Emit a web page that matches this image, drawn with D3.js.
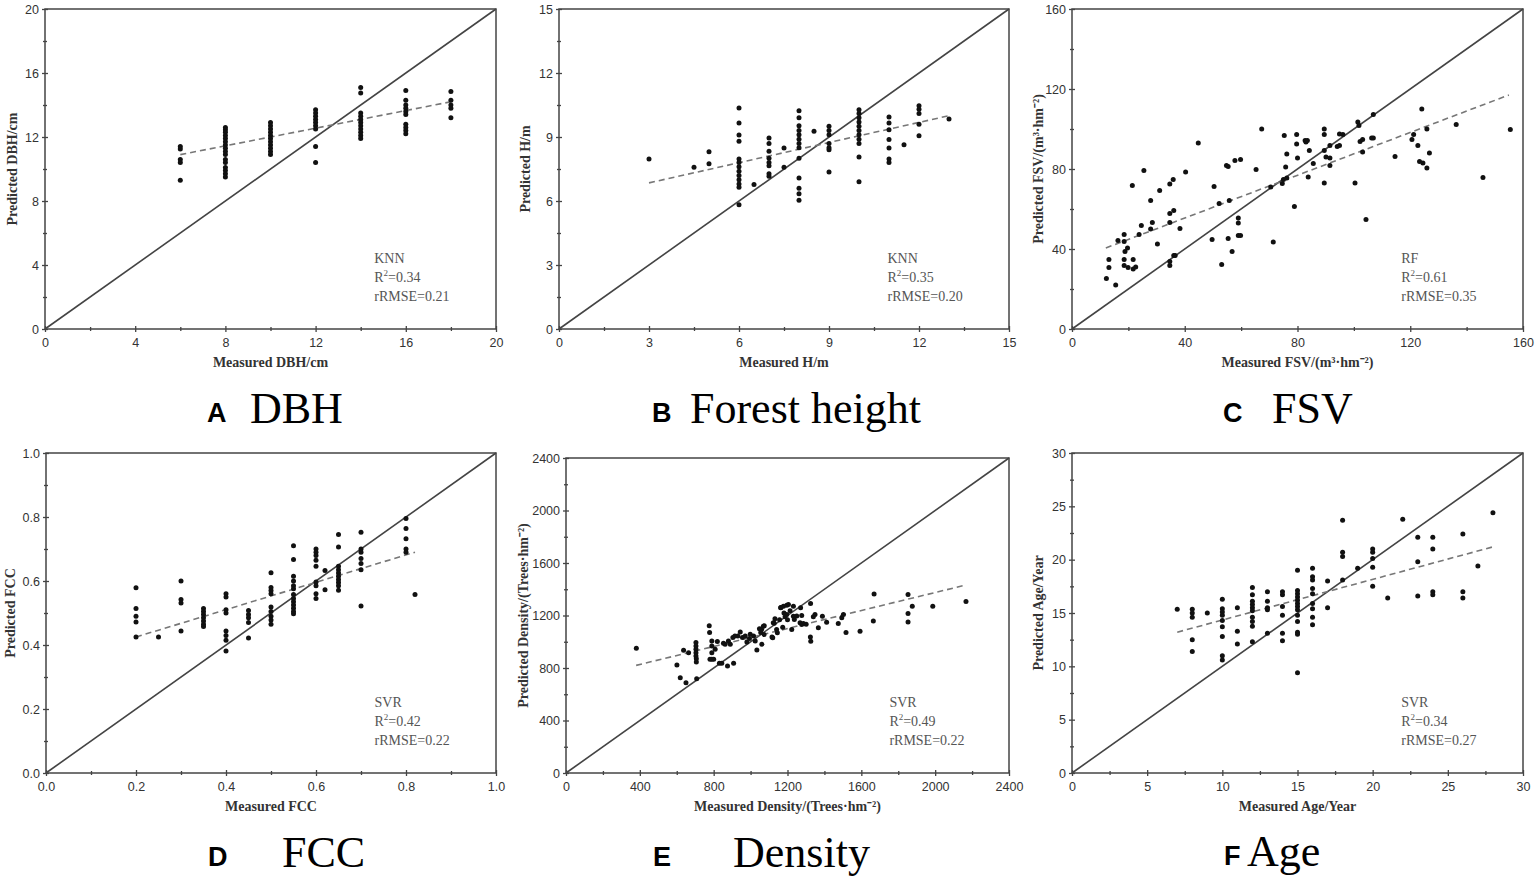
<!DOCTYPE html>
<html>
<head>
<meta charset="utf-8">
<script src="https://cdn.jsdelivr.net/npm/d3@7"></script>
<style>
  body { margin: 0; background: #fff; }
</style>
</head>
<body>
<svg id="chart" width="1535" height="878"></svg>
<script>
// ---- data: [measured, predicted] ----
var dbhPoints = [
  [6,11.4],[6,11.25],[6,10.6],[6,10.4],[6,9.3],
  [8,12.6],[8,12.45],[8,12.3],[8,12.1],[8,11.9],[8,11.7],[8,11.5],[8,11.3],[8,11.1],[8,10.9],[8,10.6],[8,10.4],[8,10.1],[8,9.9],[8,9.7],[8,9.5],
  [10,12.9],[10,12.7],[10,12.5],[10,12.3],[10,12.1],[10,11.9],[10,11.7],[10,11.5],[10,11.3],[10,11.1],[10,10.9],
  [12,13.7],[12,13.5],[12,13.3],[12,13.1],[12,12.9],[12,12.7],[12,12.5],[12,11.4],[12,10.4],
  [14,15.1],[14,14.75],[14,13.5],[14,13.3],[14,13.1],[14,12.9],[14,12.7],[14,12.5],[14,12.3],[14,12.1],[14,11.9],
  [16,14.9],[16,14.3],[16,14.0],[16,13.8],[16,13.6],[16,13.4],[16,12.8],[16,12.6],[16,12.4],[16,12.2],
  [18,14.85],[18,14.3],[18,14.0],[18,13.8],[18,13.2]
];
var heightPoints = [
  [3,7.97],[4.5,7.58],[5,8.31],[5,7.75],
  [6,10.36],[6,9.66],[6,9.09],[6,8.8],[6,7.97],[6,7.8],[6,7.6],[6,7.4],[6,7.2],[6,7.0],[6,6.8],[6,6.65],[6,5.83],
  [6.5,6.77],
  [7,8.95],[7,8.69],[7,8.33],[7,8.0],[7,7.8],[7,7.65],[7,7.28],[7,7.16],
  [7.5,8.48],[7.5,7.58],
  [8,10.23],[8,9.9],[8,9.53],[8,9.3],[8,9.1],[8,8.9],[8,8.7],[8,8.5],[8,8.0],[8,7.08],[8,6.6],[8,6.34],[8,6.03],
  [8.5,9.27],
  [9,9.5],[9,9.3],[9,9.1],[9,8.7],[9,8.5],[9,8.4],[9,7.36],
  [10,10.28],[10,10.1],[10,9.9],[10,9.7],[10,9.5],[10,9.3],[10,9.1],[10,8.9],[10,8.7],[10,8.06],[10,6.9],
  [11,9.94],[11,9.66],[11,9.34],[11,8.88],[11,8.48],[11,7.97],[11,7.8],
  [11.5,8.64],
  [12,10.47],[12,10.3],[12,10.1],[12,9.6],[12,9.06],
  [13,9.84]
];
var fsvPoints = [
  [12.2,25.2],[13.1,34.7],[13.1,30.8],[15.5,22],[16.3,44.3],[18.5,47.2],[18.5,43.8],[18.8,38.8],[19.7,40.5],
  [18.5,34.7],[18.5,31.8],[19.9,30.8],[21.4,71.7],[21.7,34.7],[21.7,30],[22.6,31],[23.8,47.2],[24.6,51.7],
  [25.5,79.3],[27.9,50],[27.9,64.3],[28.5,53.3],[30.3,42.5],[31.1,69.3],[34.7,72.5],[34.7,57.7],[34.7,53.3],
  [34.7,33.8],[34.7,31.8],[35.9,74.7],[36.1,59.3],[36.1,36.7],[36.6,36.7],[38.3,50.2],[40.3,78.5],[44.8,93],
  [49.7,44.7],[50.4,71.3],[52.2,62.7],[53.1,32.2],[54.8,81.7],[55.4,81.3],[55.4,45.2],[55.8,64.3],[56.8,38.7],
  [57.8,84.2],[59,53],[59,55.5],[59,46.7],[59.8,46.7],[59.8,84.7],[65.3,79.7],[67.3,100],[70.5,71],[71.4,43.5],
  [74.6,72.7],[75,74.7],[75.3,96.8],[75.8,81],[76.2,87.5],[76.2,75.5],[78.9,61.3],[79.7,97.2],[79.7,92.5],
  [80,85.5],[82.7,94.3],[83,93.5],[83.5,94.3],[83.8,76],[84.2,89.2],[85.6,82.7],[89.5,100],[89.5,97.2],
  [89.5,89.2],[89.5,73],[90.1,86],[91.5,91.8],[91.5,85.5],[91.5,81.7],[94.1,91.3],[94.9,91.8],[94.9,97.5],
  [96.1,97.2],[100.4,73],[101.4,103.5],[101.8,101.8],[102.2,93.8],[103.1,94.7],[103.1,88.5],[104.3,54.7],
  [106.3,95.5],[106.9,95.5],[106.9,107.2],[114.6,86.3],[120.6,94.7],[121.2,97.2],[122.7,91.8],[123.3,83.8],
  [124.1,110],[124.5,83],[125.9,80.5],[125.9,100],[126.8,88],[136.3,102.2],[145.8,75.8],[155.5,99.7]
];
var fccPoints = [
  [0.2,0.579],[0.2,0.514],[0.2,0.49],[0.2,0.472],[0.2,0.425],
  [0.25,0.425],
  [0.3,0.6],[0.3,0.542],[0.3,0.531],[0.3,0.444],
  [0.35,0.514],[0.35,0.505],[0.35,0.495],[0.35,0.485],[0.35,0.475],[0.35,0.465],[0.35,0.458],
  [0.4,0.56],[0.4,0.55],[0.4,0.51],[0.4,0.5],[0.4,0.444],[0.4,0.43],[0.4,0.415],[0.4,0.381],
  [0.45,0.508],[0.45,0.495],[0.45,0.485],[0.45,0.47],[0.45,0.422],
  [0.5,0.626],[0.5,0.58],[0.5,0.57],[0.5,0.56],[0.5,0.519],[0.5,0.505],[0.5,0.49],[0.5,0.478],[0.5,0.465],
  [0.55,0.71],[0.55,0.667],[0.55,0.615],[0.55,0.6],[0.55,0.585],[0.55,0.576],[0.55,0.558],[0.55,0.545],
  [0.55,0.535],[0.55,0.525],[0.55,0.515],[0.55,0.505],[0.55,0.498],
  [0.6,0.7],[0.6,0.69],[0.6,0.68],[0.6,0.665],[0.6,0.646],[0.6,0.597],[0.6,0.585],[0.6,0.56],[0.6,0.545],
  [0.62,0.633],[0.62,0.573],
  [0.65,0.745],[0.65,0.706],[0.65,0.646],[0.65,0.635],[0.65,0.625],[0.65,0.615],[0.65,0.605],[0.65,0.595],
  [0.65,0.585],[0.65,0.571],
  [0.7,0.752],[0.7,0.7],[0.7,0.69],[0.7,0.67],[0.7,0.655],[0.7,0.635],[0.7,0.522],
  [0.8,0.795],[0.8,0.764],[0.8,0.732],[0.8,0.7],[0.8,0.69],
  [0.82,0.558]
];
var densityPoints = [
  [381,950],[601,823],[619,726],[650,688],[637,935],[664,917],
  [704,994],[704,968],[704,943],[704,917],[704,892],[706,871],[706,846],[708,718],
  [776,1121],[778,1070],[780,866],[790,866],[800,866],[790,1006],[790,968],[790,917],[808,943],[820,1001],
  [831,836],[844,836],[853,989],[862,981],[875,815],[880,1006],[890,981],[904,1032],[908,836],[915,1044],
  [931,1044],[944,1075],[956,1032],[971,1044],[980,999],[994,1024],[998,1057],[1016,1044],[1025,1006],
  [1034,937],[1048,1100],[1055,1070],[1061,981],[1074,1121],[1069,1118],[1060,1093],[1073,1055],
  [1116,1037],[1120,1030],[1123,1144],[1128,1141],[1132,1175],[1141,1093],[1145,1068],[1157,1167],
  [1164,1261],[1174,1111],[1163,1259],[1178,1271],[1181,1220],[1187,1190],[1196,1208],[1196,1279],
  [1200,1167],[1205,1284],[1214,1236],[1223,1093],[1232,1271],[1232,1195],[1237,1169],[1250,1197],
  [1268,1144],[1271,1259],[1277,1200],[1277,1131],[1286,1139],[1301,1134],[1324,1037],[1326,1004],
  [1325,1292],[1340,1190],[1349,1208],[1367,1106],[1389,1195],[1412,1149],[1475,1139],[1494,1182],
  [1503,1207],[1517,1070],[1593,1080],[1665,1159],[1669,1363],[1853,1360],[1853,1215],[1853,1151],
  [1876,1271],[1987,1271],[2167,1307]
];
var agePoints = [
  [7,15.34],
  [8,15.34],[8,15.0],[8,14.6],[8,12.5],[8,11.4],
  [9,15.0],
  [10,16.3],[10,15.4],[10,15.1],[10,14.8],[10,14.3],[10,13.7],[10,12.8],[10,11.0],[10,10.6],
  [11,15.5],[11,13.3],[11,12.1],
  [12,17.4],[12,16.7],[12,16.1],[12,15.8],[12,15.5],[12,15.2],[12,14.6],[12,14.2],[12,13.75],[12,12.3],
  [13,17.0],[13,16.1],[13,15.5],[13,15.3],[13,13.1],
  [14,17.0],[14,16.7],[14,15.6],[14,14.8],[14,13.1],[14,12.4],
  [15,19.0],[15,17.1],[15,16.8],[15,16.5],[15,16.2],[15,15.9],[15,15.6],[15,15.3],[15,14.8],[15,14.2],
  [15,13.2],[15,13.0],[15,9.4],
  [16,19.2],[16,18.4],[16,18.1],[16,17.3],[16,16.8],[16,15.9],[16,15.4],[16,14.6],[16,13.9],
  [17,18.0],[17,15.5],
  [18,23.7],[18,20.7],[18,20.3],[18,18.1],
  [19,19.2],
  [20,21.0],[20,20.7],[20,20.1],[20,19.3],[20,17.5],
  [21,16.4],[22,23.8],
  [23,22.1],[23,19.8],[23,16.6],
  [24,22.1],[24,21.0],[24,17.0],[24,16.7],
  [26,22.4],[26,17.0],[26,16.4],
  [27,19.4],[28,24.4]
];

// fitted (dashed) lines: [start, end]
var dbhTrend = [[6,10.9],[18,14.2]];
var heightTrend = [[3,6.85],[13,10.0]];
var fsvTrend = [[12,40.5],[155,117]];
var fccTrend = [[0.2,0.425],[0.82,0.69]];
var densityTrend = [[380,820],[2160,1430]];
var ageTrend = [[7,13.2],[28,21.2]];

// tick values
var dbhTicks = [0,4,8,12,16,20];
var heightTicks = [0,3,6,9,12,15];
var fsvTicks = [0,40,80,120,160];
var fccTicks = [0,0.2,0.4,0.6,0.8,1.0];
var densityTicks = [0,400,800,1200,1600,2000,2400];
var ageTicks = [0,5,10,15,20,25,30];

// model / statistic labels
var models = ["KNN","KNN","RF","SVR","SVR","SVR"];
var r2 = ["0.34","0.35","0.61","0.42","0.49","0.34"];
var rrmse = ["0.21","0.20","0.35","0.22","0.22","0.27"];
var letters = ["A","B","C","D","E","F"];
var captions = ["DBH","Forest height","FSV","FCC","Density","Age"];
var xTitles = ["Measured DBH/cm","Measured H/m","Measured FSV/(m³·hm⁻²)",
               "Measured FCC","Measured Density/(Trees·hm⁻²)","Measured Age/Year"];
var yTitles = ["Predicted DBH/cm","Predicted H/m","Predicted FSV/(m³·hm⁻²)",
               "Predicted FCC","Predicted Density/(Trees·hm⁻²)","Predicted Age/Year"];

// ---- layout ----
var panels = [
  {pts: dbhPoints, trend: dbhTrend, ticks: dbhTicks, fmt: d3.format("d"),
   box: [45, 9, 496, 329], yt: 33, letterX: 207, wordX: 250, capY: 423},
  {pts: heightPoints, trend: heightTrend, ticks: heightTicks, fmt: d3.format("d"),
   box: [559, 9, 1009, 329], yt: 34, letterX: 652, wordX: 690, capY: 423},
  {pts: fsvPoints, trend: fsvTrend, ticks: fsvTicks, fmt: d3.format("d"),
   box: [1072, 9, 1523, 329], yt: 34, letterX: 1223, wordX: 1272, capY: 423},
  {pts: fccPoints, trend: fccTrend, ticks: fccTicks, fmt: d3.format(".1f"),
   box: [46, 453, 496, 773], yt: 36, letterX: 208, wordX: 282, capY: 867},
  {pts: densityPoints, trend: densityTrend, ticks: densityTicks, fmt: d3.format("d"),
   box: [566, 458, 1009, 773], yt: 43, letterX: 653, wordX: 733, capY: 867},
  {pts: agePoints, trend: ageTrend, ticks: ageTicks, fmt: d3.format("d"),
   box: [1072, 453, 1523, 773], yt: 34, letterX: 1224, wordX: 1247, capY: 866}
];

var svg = d3.select("#chart");
var serif = "'Liberation Serif', 'Times New Roman', serif";
var sans = "'Liberation Sans', Arial, sans-serif";

panels.forEach(function(p, i) {
  var max = p.ticks[p.ticks.length - 1];
  var step = p.ticks[1] - p.ticks[0];
  var minor = p.ticks.slice(0, -1).map(function(t) { return t + step / 2; });

  var x = d3.scaleLinear().domain([0, max]).range([p.box[0], p.box[2]]);
  var y = d3.scaleLinear().domain([0, max]).range([p.box[3], p.box[1]]);
  var g = svg.append("g");

  // frame
  g.append("rect")
    .attr("x", p.box[0]).attr("y", p.box[1])
    .attr("width", p.box[2] - p.box[0]).attr("height", p.box[3] - p.box[1])
    .attr("fill", "none").attr("stroke", "#444").attr("stroke-width", 1.5);

  // X axis - major ticks cross the axis line
  g.append("g")
    .attr("transform", "translate(0," + p.box[3] + ")")
    .call(d3.axisBottom(x).tickValues(p.ticks).tickFormat(p.fmt)
      .tickSizeInner(3).tickSizeOuter(0).tickPadding(6))
    .selectAll(".tick line").attr("y1", -3);
  g.append("g")
    .attr("transform", "translate(0," + p.box[3] + ")")
    .call(d3.axisBottom(x).tickValues(minor).tickFormat("")
      .tickSizeInner(2).tickSizeOuter(0))
    .selectAll(".tick line").attr("y1", -2);

  // Y axis
  g.append("g")
    .attr("transform", "translate(" + p.box[0] + ",0)")
    .call(d3.axisLeft(y).tickValues(p.ticks).tickFormat(p.fmt)
      .tickSizeInner(3).tickSizeOuter(0).tickPadding(3))
    .selectAll(".tick line").attr("x1", 3);
  g.append("g")
    .attr("transform", "translate(" + p.box[0] + ",0)")
    .call(d3.axisLeft(y).tickValues(minor).tickFormat("")
      .tickSizeInner(2).tickSizeOuter(0))
    .selectAll(".tick line").attr("x1", 2);

  g.selectAll(".domain").remove();
  g.selectAll(".tick line").attr("stroke", "#444").attr("stroke-width", 1.3);
  g.selectAll(".tick text")
    .attr("fill", "#333")
    .style("font-family", sans)
    .style("font-size", "12.5px");

  // 1:1 line
  g.append("line")
    .attr("x1", x(0)).attr("y1", y(0))
    .attr("x2", x(max)).attr("y2", y(max))
    .attr("stroke", "#444").attr("stroke-width", 1.6);

  // fitted line
  g.append("line")
    .attr("x1", x(p.trend[0][0])).attr("y1", y(p.trend[0][1]))
    .attr("x2", x(p.trend[1][0])).attr("y2", y(p.trend[1][1]))
    .attr("stroke", "#777").attr("stroke-width", 1.6)
    .attr("stroke-dasharray", "6,4");

  // points
  g.selectAll("circle.pt")
    .data(p.pts)
    .enter()
    .append("circle")
      .attr("class", "pt")
      .attr("cx", function(d) { return x(d[0]); })
      .attr("cy", function(d) { return y(d[1]); })
      .attr("r", 2.5)
      .attr("fill", "#111");

  // stats block
  var sx = p.box[0] + (p.box[2] - p.box[0]) * 0.73;
  var sy = p.box[3] - 66;
  var st = g.append("g")
    .style("font-family", serif).style("font-size", "14px").attr("fill", "#555");
  st.append("text").attr("x", sx).attr("y", sy).text(models[i]);
  var r2t = st.append("text").attr("x", sx).attr("y", sy + 19);
  r2t.append("tspan").text("R");
  r2t.append("tspan").attr("dy", -6).style("font-size", "9px").text("2");
  r2t.append("tspan").attr("dy", 6).text("=" + r2[i]);
  st.append("text").attr("x", sx).attr("y", sy + 38).text("rRMSE=" + rrmse[i]);

  // axis titles
  g.append("text")
    .attr("x", (p.box[0] + p.box[2]) / 2)
    .attr("y", p.box[3] + 38)
    .attr("text-anchor", "middle")
    .style("font-family", serif).style("font-size", "14px").style("font-weight", "bold")
    .attr("fill", "#333")
    .text(xTitles[i]);
  g.append("text")
    .attr("transform", "translate(" + (p.box[0] - p.yt + 5) + "," + ((p.box[1] + p.box[3]) / 2) + ") rotate(-90)")
    .attr("text-anchor", "middle")
    .style("font-family", serif).style("font-size", "14px").style("font-weight", "bold")
    .attr("fill", "#333")
    .text(yTitles[i]);

  // caption
  g.append("text")
    .attr("x", p.letterX).attr("y", p.capY - 1)
    .style("font-family", sans).style("font-size", "27px").style("font-weight", "bold")
    .attr("fill", "#000")
    .text(letters[i]);
  g.append("text")
    .attr("x", p.wordX).attr("y", p.capY)
    .style("font-family", serif).style("font-size", "44px")
    .attr("fill", "#000")
    .text(captions[i]);
});
</script>
</body>
</html>
